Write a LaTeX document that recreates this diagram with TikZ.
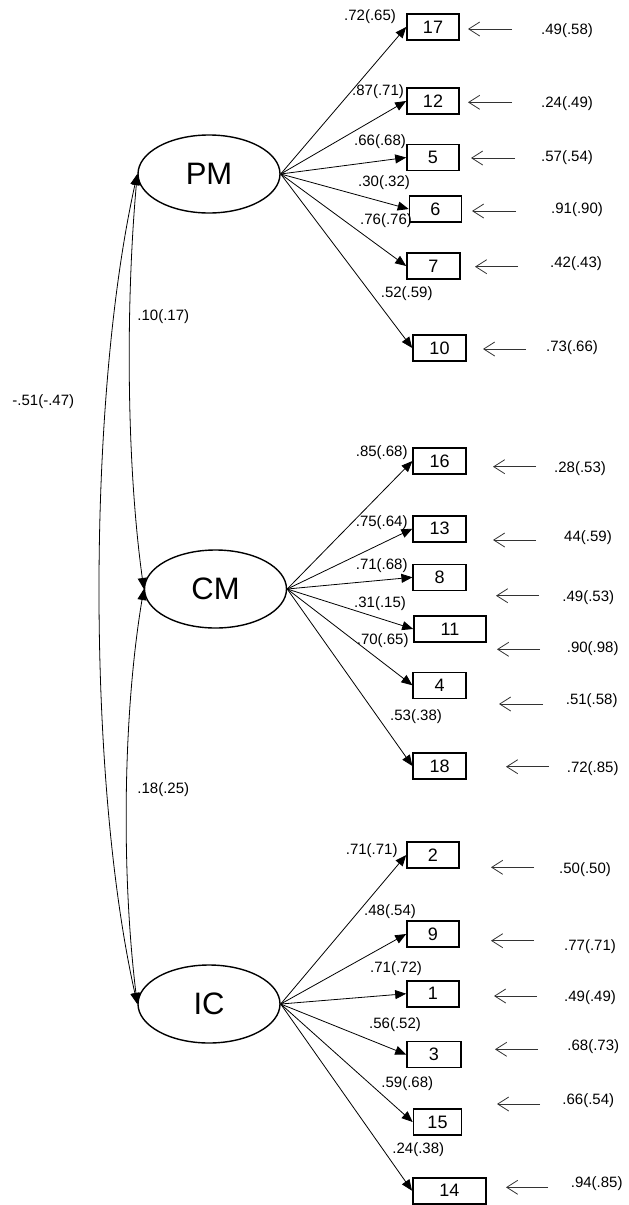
\documentclass[tikz,border=0pt]{standalone}
\usepackage{fontspec}
\setmainfont{Liberation Sans}
\usetikzlibrary{arrows.meta,shapes.geometric}
\tikzset{
	latent/.style={draw,ellipse,line width=1.4pt,minimum width=142pt,minimum height=78pt,inner sep=0pt,font=\fontsize{31}{31}\selectfont},
	item/.style={draw,line width=1.6pt,minimum height=26pt,inner sep=0pt,font=\fontsize{18}{18}\selectfont},
	lbl/.style={inner sep=0pt,font=\fontsize{15}{15}\selectfont},
	load/.style={-{Triangle[length=11pt,width=9pt]},line width=0.8pt},
	cov/.style={{Triangle[length=11pt,width=9pt]}-{Triangle[length=11pt,width=9pt]},line width=0.8pt},
	err/.style={-{Straight Barb[length=11pt,width=14pt]},line width=0.8pt,black!80},
}
\begin{document}
\begin{tikzpicture}[x=1pt,y=-1pt]
	\useasboundingbox (0,0) rectangle (629,1205);
	\node[latent] (PM) at (209,174) {PM};
	\node[latent] (CM) at (215.5,589) {CM};
	\node[latent] (IC) at (209,1004) {IC};
	% item / box x / box y / width / factor / loading / label x,y / error tip, tail, y / error / label x,y
	\foreach \n/\x/\y/\w/\f/\l/\lx/\ly/\ta/\tb/\ty/\e/\rx/\ry in {
		17/433/27/52/PM/.72(.65)/370/16.7/468/512/29/.49(.58)/567/31,
		12/433/101/52/PM/.87(.71)/378/91.7/468/512/102.3/.24(.49)/567/104,
		5/433/157.5/52/PM/.66(.68)/380/141.7/471/515/158/.57(.54)/567/158,
		6/435.5/209/52/PM/.30(.32)/384/182.7/472/516/211/.91(.90)/577/210,
		7/433.5/266/53/PM/.76(.76)/386/220.7/475/518/266.7/.42(.43)/576/264,
		10/439.5/348/53/PM/.52(.59)/406.7/293.3/483/526/349/.73(.66)/572/348,
		16/439.7/461/53/CM/.85(.68)/381.7/452.7/493/536/466.7/.28(.53)/580/468.3,
		13/439.7/528.7/53/CM/.75(.64)/381.7/522.7/493/536/540/44(.59)/588/537.3,
		8/439.7/577.3/53/CM/.71(.68)/381.7/565.7/496/539/595.7/.49(.53)/588.3/597.3,
		11/450/629/72/CM/.31(.15)/380/603.3/497/540/649.3/.90(.98)/592.7/648.3,
		4/439.7/685.3/53/CM/.70(.65)/382.7/640.7/499/543/704/.51(.58)/591.7/700.7,
		18/439.7/766/53/CM/.53(.38)/416/716.7/506/549/766.7/.72(.85)/592.7/768.3,
		2/433/855/52/IC/.71(.71)/371.7/850.7/491/534/867.3/.50(.50)/585/869.3,
		9/433/934/52/IC/.48(.54)/390/911.7/491/534/940.7/.77(.71)/590/946.7,
		1/433/993.7/52/IC/.71(.72)/396/968.3/494/537/996/.49(.49)/590/997.3,
		3/434/1054.5/54/IC/.56(.52)/395/1025/495/538/1049.3/.68(.73)/593.3/1046.7,
		15/437.5/1122/48/IC/.59(.68)/407.3/1083.3/497/540/1104/.66(.54)/588.3/1100.7,
		14/449.3/1190.7/73/IC/.24(.38)/418.3/1149.3/506/548/1187.3/.94(.85)/596.7/1184}{
		\node[item,minimum width=\w pt] (i\n) at (\x,\y) {\n};
		\draw[load] (\f.east) -- (i\n.west);
		\node[lbl] (l\n) at (\lx,\ly) {\l};
		\coordinate (s\n) at (\tb,\ty);
		\coordinate (t\n) at (\ta,\ty);
		\draw[err] (s\n) -- (t\n);
		\node[lbl] (r\n) at (\rx,\ry) {\e};
	}
	% covariances
	\draw[cov] (PM.west) .. controls (126,300) and (126,460) .. (CM.west);
	\draw[cov] (CM.west) .. controls (122,720) and (122,880) .. (IC.west);
	\draw[cov] (PM.west) .. controls (87,400) and (87,780) .. (IC.west);
	\node[lbl] (c1) at (163.3,316.7) {.10(.17)};
	\node[lbl] (c2) at (163.3,789.3) {.18(.25)};
	\node[lbl] (c3) at (43.3,401.7) {-.51(-.47)};
\end{tikzpicture}
\end{document}
